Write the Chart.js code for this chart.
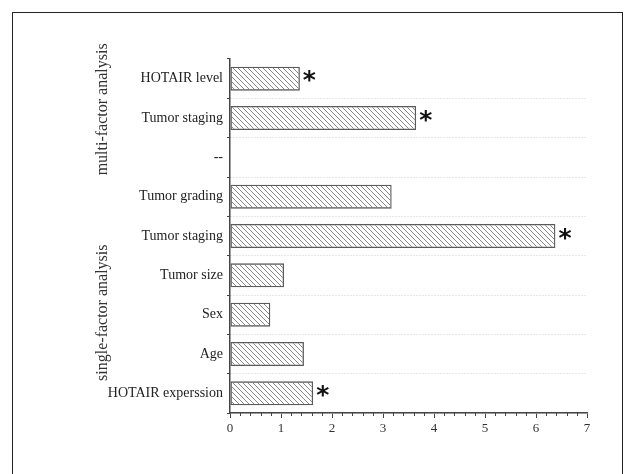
<!DOCTYPE html>
<html>
<head>
<meta charset="utf-8">
<script src="https://cdn.jsdelivr.net/npm/chart.js@4/dist/chart.umd.min.js"></script>
<style>
  html, body { margin: 0; padding: 0; background: #fff; }
  #wrap { position: relative; width: 625px; height: 474px; overflow: hidden; }
  #frame { position: absolute; left: 12px; top: 12px; width: 609px; height: 520px; border: 1.5px solid #222; }
  #chart { position: absolute; left: 0; top: 0; }
</style>
</head>
<body>
<div id="wrap">
  <div id="frame"></div>
  <canvas id="chart" width="625" height="474"></canvas>
</div>
<script>
    // Data (top to bottom)
    const factors = ['HOTAIR level', 'Tumor staging', '--', 'Tumor grading', 'Tumor staging', 'Tumor size', 'Sex', 'Age', 'HOTAIR experssion'];
    const values = [1.37, 3.65, null, 3.17, 6.38, 1.06, 0.79, 1.45, 1.63];
    const significant = [true, true, false, false, true, false, false, false, true];
    const groups = ['multi-factor analysis', 'single-factor analysis'];
    const groupCenters = [0.78, 5.95];   // position along the category axis
    const xTicks = [0, 1, 2, 3, 4, 5, 6, 7];

    // Hatched fill "\\\\"
    function hatch() {
        const s = 5;
        const c = document.createElement('canvas');
        c.width = s; c.height = s;
        const g = c.getContext('2d');
        g.strokeStyle = '#7a7a7a';
        g.lineWidth = 0.9;
        for (const k of [-s, 0, s]) {
            g.beginPath();
            g.moveTo(k, 0);
            g.lineTo(k + s, s);
            g.stroke();
        }
        return g.createPattern(c, 'repeat');
    }

    const serif = '"Liberation Serif", "Times New Roman", serif';

    // Asterisks, group labels and minor ticks
    const extras = {
        id: 'extras',
        afterDraw(chart) {
            const ctx = chart.ctx;
            const x = chart.scales.x, y = chart.scales.y;
            const meta = chart.getDatasetMeta(0);

            // minor ticks on x
            ctx.save();
            ctx.strokeStyle = '#444';
            ctx.lineWidth = 1;
            for (let v = 0; v <= 7.001; v += 0.2) {
                if (Math.abs(v - Math.round(v)) < 0.01) continue;
                const px = Math.round(x.getPixelForValue(v)) + 0.5;
                ctx.beginPath();
                ctx.moveTo(px, y.bottom);
                ctx.lineTo(px, y.bottom + 3);
                ctx.stroke();
            }
            ctx.restore();

            // asterisks
            ctx.save();
            ctx.fillStyle = '#111';
            ctx.font = 'bold 25px "DejaVu Sans"';
            ctx.textAlign = 'left';
            ctx.textBaseline = 'middle';
            meta.data.forEach((bar, i) => {
                if (!significant[i] || values[i] == null) return;
                ctx.fillText('*', bar.x + 3, bar.y + 3);
            });
            ctx.restore();

            // group labels
            ctx.save();
            ctx.fillStyle = '#333';
            ctx.font = '16px ' + serif;
            ctx.textAlign = 'center';
            ctx.textBaseline = 'middle';
            groups.forEach((t, i) => {
                ctx.save();
                ctx.translate(103, y.getPixelForValue(groupCenters[i]));
                ctx.rotate(-Math.PI / 2);
                ctx.fillText(t, 0, 0);
                ctx.restore();
            });
            ctx.restore();
        }
    };

    const config = {
        type: 'bar',
        data: {
            labels: factors,
            datasets: [{
                data: values,
                backgroundColor: hatch(),
                borderColor: '#5a5a5a',
                borderWidth: 1.3,
                borderSkipped: false,
                barPercentage: 0.61,
                categoryPercentage: 1
            }]
        },
        options: {
            indexAxis: 'y',
            responsive: false,
            animation: false,
            layout: { padding: { top: 59, right: 38, bottom: 0, left: 0 } },
            plugins: {
                legend: { display: false },
                tooltip: { enabled: false }
            },
            scales: {
                x: {
                    min: 0,
                    max: 7,
                    afterFit: (s) => { s.height = 61; },
                    afterBuildTicks: (s) => { s.ticks = xTicks.map(v => ({ value: v })); },
                    grid: {
                        drawOnChartArea: false,
                        drawTicks: true,
                        tickLength: 5,
                        tickColor: '#444',
                        tickWidth: 1
                    },
                    border: { color: '#444', width: 1.5 },
                    ticks: {
                        padding: 3,
                        color: '#333',
                        font: { family: serif, size: 13 }
                    }
                },
                y: {
                    afterFit: (s) => { s.width = 230; },
                    grid: {
                        offset: true,
                        color: (c) => (c.index === 0 || c.index === factors.length) ? 'rgba(0,0,0,0)' : '#cfcfcf',
                        lineWidth: 1,
                        tickColor: '#444',
                        tickLength: 3,
                        tickBorderDash: [],
                        drawTicks: true
                    },
                    border: { color: '#444', width: 1.5, dash: [1, 2] },
                    ticks: {
                        padding: 4,
                        color: '#222',
                        font: { family: serif, size: 14 }
                    }
                }
            }
        },
        plugins: [extras]
    };

    const chart = new Chart(document.getElementById('chart'), config);
</script>
</body>
</html>
